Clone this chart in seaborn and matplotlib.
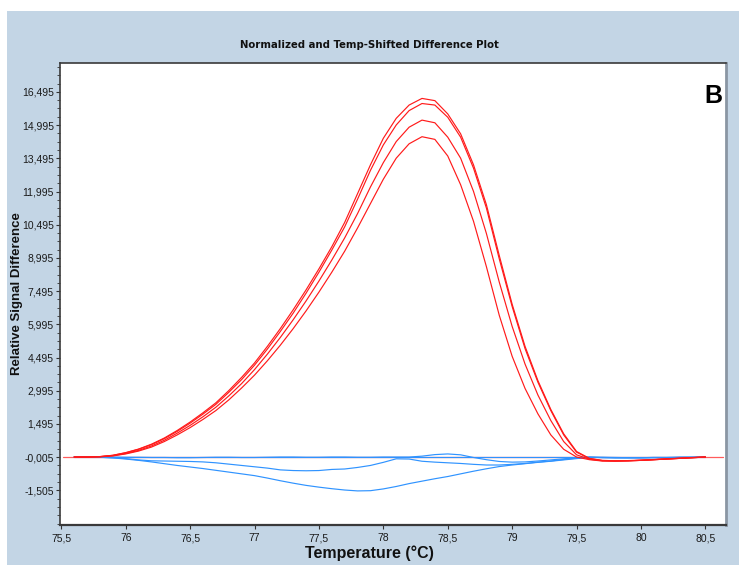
import matplotlib
matplotlib.use("Agg")
import matplotlib.pyplot as plt
from matplotlib import font_manager
from matplotlib.patches import Rectangle
from matplotlib.ticker import AutoMinorLocator, FixedLocator
import pandas as pd
import seaborn as sns

# Temperature grid (°C)
temperature = [75.6, 75.7, 75.8, 75.9, 76.0, 76.1, 76.2, 76.3, 76.4, 76.5,
               76.6, 76.7, 76.8, 76.9, 77.0, 77.1, 77.2, 77.3, 77.4, 77.5,
               77.6, 77.7, 77.8, 77.9, 78.0, 78.1, 78.2, 78.3, 78.4, 78.5,
               78.6, 78.7, 78.8, 78.9, 79.0, 79.1, 79.2, 79.3, 79.4, 79.5,
               79.6, 79.7, 79.8, 79.9, 80.0, 80.1, 80.2, 80.3, 80.4, 80.5]

# Variant samples (red)
red_1 = [0, 0, 20, 80, 200, 360, 580, 860, 1200, 1580,
         2000, 2450, 3000, 3600, 4250, 5000, 5800, 6650, 7550, 8500,
         9500, 10600, 11900, 13200, 14400, 15300, 15900, 16200, 16100, 15500,
         14600, 13200, 11400, 9100, 6900, 5000, 3450, 2150, 1050, 250,
         -60, -150, -170, -160, -140, -110, -80, -50, -20, 0]
red_2 = [0, 0, 20, 75, 190, 350, 560, 830, 1160, 1530,
         1940, 2380, 2920, 3500, 4150, 4880, 5670, 6500, 7400, 8350,
         9350, 10400, 11650, 12950, 14100, 15000, 15650, 15970, 15900, 15350,
         14450, 13050, 11250, 8950, 6800, 4900, 3380, 2100, 1000, 220,
         -70, -160, -180, -170, -150, -120, -90, -60, -30, 0]
red_3 = [0, 0, 15, 60, 160, 300, 500, 760, 1080, 1430,
         1820, 2250, 2760, 3320, 3950, 4650, 5400, 6200, 7050, 7950,
         8900, 9900, 11000, 12200, 13300, 14250, 14900, 15220, 15100, 14450,
         13500, 12000, 10100, 7900, 5900, 4200, 2800, 1650, 700, 100,
         -100, -170, -180, -170, -150, -120, -90, -60, -30, 0]
red_4 = [0, 0, 10, 50, 140, 270, 450, 700, 1000, 1330,
         1700, 2100, 2580, 3120, 3700, 4350, 5050, 5800, 6600, 7450,
         8350, 9300, 10350, 11450, 12550, 13500, 14150, 14470, 14350, 13600,
         12300, 10650, 8600, 6400, 4550, 3100, 1950, 1000, 350, 0,
         -120, -180, -180, -170, -150, -120, -90, -60, -30, 0]

# Reference samples (blue)
blue_1 = [0, 0, 0, 0, -10, -10, -20, -20, -30, -30,
          -20, -10, -10, -20, -20, -10, 0, 0, -10, -10,
          0, 0, -10, -10, 0, 0, 0, 40, 110, 140,
          100, -20, -120, -200, -230, -220, -180, -130, -80, -30,
          0, -30, -40, -40, -40, -30, -30, -20, -10, 0]
blue_2 = [0, 0, -10, -30, -70, -130, -170, -180, -190, -200,
          -220, -260, -320, -380, -440, -500, -580, -610, -620, -610,
          -560, -540, -470, -380, -240, -80, -90, -190, -230, -260,
          -290, -330, -360, -360, -330, -290, -230, -180, -110, -50,
          0, -20, -30, -30, -30, -20, -20, -10, -10, 0]
blue_3 = [0, 0, -10, -40, -90, -150, -220, -300, -380, -450,
          -520, -600, -680, -760, -840, -950, -1070, -1180, -1280, -1360,
          -1430, -1490, -1530, -1520, -1440, -1330, -1200, -1090, -980, -880,
          -760, -640, -530, -430, -360, -300, -240, -190, -130, -70,
          -20, -10, -20, -30, -30, -20, -20, -10, -10, 0]
blue_4 = [0] * len(temperature)

y_ticks = [-1505, -5, 1495, 2995, 4495, 5995, 7495, 8995, 10495,
           11995, 13495, 14995, 16495]
x_ticks = [75.5, 76, 76.5, 77, 77.5, 78, 78.5, 79, 79.5, 80, 80.5]

series = {
    "blue_4": blue_4, "blue_1": blue_1, "blue_2": blue_2, "blue_3": blue_3,
    "red_4": red_4, "red_3": red_3, "red_2": red_2, "red_1": red_1,
}
frames = [pd.DataFrame({"temperature": temperature, "signal": vals, "trace": name})
          for name, vals in series.items()]
data = pd.concat(frames, ignore_index=True)

RED = "#ff1a1a"
BLUE = "#2f93ff"
palette = {name: (RED if name.startswith("red") else BLUE) for name in series}

sns.set_theme(style="white")
plt.rcParams["font.family"] = ["Liberation Sans", "DejaVu Sans"]

# pick a narrow face for the tick labels when one is installed
installed = {f.name for f in font_manager.fontManager.ttflist}
if "Liberation Sans Narrow" in installed:
    tick_family, tick_size = ["Liberation Sans Narrow", "DejaVu Sans"], 9.5
    xlab_family, xlab_size = ["Liberation Sans Narrow", "DejaVu Sans"], 13
else:
    tick_family, tick_size = ["Liberation Sans", "DejaVu Sans"], 7.5
    xlab_family, xlab_size = ["Liberation Sans", "DejaVu Sans"], 11.5

fig = plt.figure(figsize=(7.39, 5.65), dpi=100, facecolor="white")
fig.patches.append(Rectangle((7 / 739, 0), 1, 1 - 11 / 565,
                             transform=fig.transFigure, facecolor="#c3d5e5",
                             edgecolor="none", zorder=-10))

ax = fig.add_axes([60 / 739, 40 / 565, 666 / 739, 462 / 565])
ax.set_facecolor("white")

# zero baseline
ax.axhline(0, xmin=0.005, xmax=0.995, color="#ff5c5c", lw=0.9, zorder=1)

sns.lineplot(data=data, x="temperature", y="signal", hue="trace",
             palette=palette, estimator=None, sort=False, legend=False,
             lw=0.85, ax=ax, zorder=3)

ax.set_xlim(75.49, 80.66)
ax.set_ylim(-3070, 17800)

ax.xaxis.set_major_locator(FixedLocator(x_ticks))
ax.set_xticklabels([("%g" % t).replace(".", ",") for t in x_ticks])
ax.yaxis.set_major_locator(FixedLocator(y_ticks))
ax.set_yticklabels([("%.3f" % (v / 1000)).replace(".", ",") for v in y_ticks])
ax.yaxis.set_minor_locator(AutoMinorLocator(4))

for lab in ax.get_xticklabels() + ax.get_yticklabels():
    lab.set_family(tick_family)
    lab.set_fontsize(tick_size)
    lab.set_color("#1a1a1a")

ax.tick_params(axis="both", which="major", direction="out", length=3,
               width=0.8, color="#333333", pad=1.5, bottom=True, left=True)
ax.tick_params(axis="x", which="major", pad=3)
ax.tick_params(axis="y", which="minor", direction="out", length=2,
               width=0.6, color="#333333", left=True)

for side in ["left", "bottom", "top"]:
    ax.spines[side].set_color("#3a3a3a")
    ax.spines[side].set_linewidth(1.2)
ax.spines["right"].set_color("#8a96a3")
ax.spines["right"].set_linewidth(2.0)
ax.spines["bottom"].set_linewidth(1.6)

ax.set_xlabel("")
ax.set_ylabel("")

fig.text(0.5, 1 - 45 / 565, "Normalized and Temp-Shifted Difference Plot",
         ha="center", va="center", fontsize=7.3, fontweight="bold",
         family=["DejaVu Sans"], color="#111111")
fig.text(369 / 739, 1 - 553 / 565, "Temperature (°C)", ha="center",
         va="center", fontsize=xlab_size, fontweight="bold",
         family=xlab_family, color="#111111")
fig.text(17 / 739, 1 - 294 / 565, "Relative Signal Difference", ha="center",
         va="center", rotation=90, fontsize=9.5, fontweight="bold",
         color="#111111")

ax.text(0.994, 0.955, "B", transform=ax.transAxes, ha="right", va="top",
        fontsize=18, fontweight="bold", family=["Liberation Sans", "DejaVu Sans"],
        color="black")

fig.savefig("out.png", dpi=100, facecolor="white")
